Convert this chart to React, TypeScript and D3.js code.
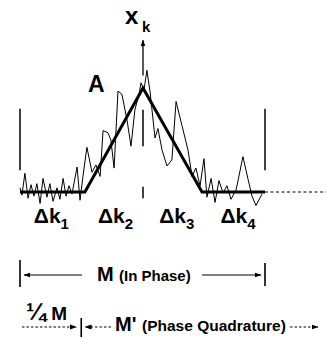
import * as d3 from 'd3';

// position along the record (M = 100) and amplitude (A = 1)
const noiseK = [
  0, 0.8, 2.0, 3.3, 4.5, 5.7, 6.9, 8.2, 9.4, 11.0, 12.2, 13.5, 15.1, 16.3, 17.6, 18.8, 20.0, 21.2, 23.3, 24.5,
  25.7, 27.3, 29.4, 31.0, 32.7, 33.9, 35.9, 37.1, 38.4, 40.0, 41.6, 43.7, 45.3, 46.9, 48.6, 49.4, 50.6, 51.8,
  53.1, 55.1, 56.3, 58.0, 60.0, 62.0, 63.7, 66.1, 68.6, 70.2, 71.8, 73.5, 75.1, 76.3, 78.0, 79.6, 81.2, 82.9,
  84.5, 86.1, 88.2, 91.0, 93.1, 94.7, 96.3, 98.8,
];
const noiseAmp = [
  0.04, -0.03, 0.18, -0.06, 0.07, -0.04, 0.08, -0.11, 0.13, -0.05, 0.08, -0.09, 0.04, -0.07, 0.13, -0.04, 0.06,
  -0.02, 0.24, -0.08, 0.15, 0.43, 0.19, 0.26, 0.15, 0.59, 0.57, 0.5, 0.23, 0.97, 0.94, 0.69, 0.44, 0.79, 0.94,
  1.05, 0.98, 1.17, 0.96, 0.52, 0.61, 0.4, 0.25, 0.31, 0.87, 0.64, 0.4, 0.15, 0.23, 0.06, 0.32, -0.05, 0.13,
  -0.1, 0.11, -0.01, 0.06, -0.07, 0.02, 0.34, 0.12, -0.04, -0.13, -0.02,
];
const trendK = [0, 26.5, 50.2, 74.3, 100];
const trendAmp = [0, 0, 1, 0, 0];
const dkSubs = ['1', '2', '3', '4'];
const dkCenters = [12.8, 39.0, 64.0, 89.0];

const FONT = '"Liberation Sans", Arial, Helvetica, sans-serif';

export default function App() {
  const width = 326;
  const height = 337;
  const x = d3.scaleLinear().domain([0, 100]).range([20, 265]);
  const y = d3.scaleLinear().domain([0, 1]).range([192, 88]);

  const line = d3
    .line<[number, number]>()
    .x((d) => x(d[0]))
    .y((d) => y(d[1]));

  const noise = noiseK.map((k, i) => [k, noiseAmp[i]] as [number, number]);
  const trend = trendK.map((k, i) => [k, trendAmp[i]] as [number, number]);
  const peakK = trendK[2];

  const rowM = 275;
  const rowQ = 327;

  return (
    <svg
      width={width}
      height={height}
      style={{ position: 'absolute', left: 0, top: 0, background: '#fff' }}
      fontFamily={FONT}
      fontWeight="bold"
    >
      <defs>
        <marker id="head" viewBox="0 0 10 10" refX="9" refY="5" markerWidth="7" markerHeight="7" orient="auto-start-reverse" markerUnits="userSpaceOnUse">
          <path d="M0,1.5 L10,5 L0,8.5 Z" fill="#000" />
        </marker>
      </defs>

      {/* x_k axis arrow */}
      <line x1={x(peakK)} x2={x(peakK)} y1={y(1.12)} y2={y(1.46)} stroke="#000" strokeWidth={1.3} markerEnd="url(#head)" />
      <text x={x(peakK) - 18} y={24} fontSize={24}>
        x
      </text>
      <text x={x(peakK) - 1} y={32} fontSize={15}>
        k
      </text>
      <text x={88} y={92} fontSize={23}>
        A
      </text>

      {/* frame bars and centre ticks */}
      {[0, 100].map((k) => (
        <line key={k} x1={x(k)} x2={x(k)} y1={y(0.8)} y2={y(0.21)} stroke="#000" strokeWidth={1.5} />
      ))}
      <line x1={x(peakK)} x2={x(peakK)} y1={y(0.79)} y2={y(0.44)} stroke="#000" strokeWidth={1.5} />
      <line x1={x(peakK)} x2={x(peakK)} y1={y(0.05)} y2={y(-0.06)} stroke="#000" strokeWidth={1.5} />

      {/* noisy record and trend */}
      <path d={line(noise) ?? ''} fill="none" stroke="#000" strokeWidth={1} strokeLinejoin="miter" />
      <path d={line(trend) ?? ''} fill="none" stroke="#000" strokeWidth={3} />
      <line x1={x(100)} x2={width} y1={y(0)} y2={y(0)} stroke="#000" strokeWidth={1} strokeDasharray="3,2.5" />

      {/* delta k labels */}
      {dkSubs.map((s, i) => (
        <text key={s} x={x(dkCenters[i])} y={223} fontSize={21} textAnchor="middle">
          Δk
          <tspan fontSize={15} dy={6}>
            {s}
          </tspan>
        </text>
      ))}

      {/* M (In Phase) */}
      <line x1={x(0)} x2={x(0)} y1={rowM - 15} y2={rowM + 12} stroke="#000" strokeWidth={1.6} />
      <line x1={x(100)} x2={x(100)} y1={rowM - 12} y2={rowM + 11} stroke="#000" strokeWidth={1.6} />
      <line x1={82} x2={x(0) + 4} y1={rowM} y2={rowM} stroke="#000" strokeWidth={1} markerEnd="url(#head)" />
      <line x1={202} x2={x(100) - 4} y1={rowM} y2={rowM} stroke="#000" strokeWidth={1} markerEnd="url(#head)" />
      <text x={97} y={rowM + 6} fontSize={20}>
        M
      </text>
      <text x={119} y={rowM + 6} fontSize={15}>
        (In Phase)
      </text>

      {/* 1/4 M and M' (Phase Quadrature) */}
      <text x={26} y={320} fontSize={19}>
        <tspan fontSize={24}>¼</tspan> M
      </text>
      <line x1={x(0.8)} x2={x(25) - 5} y1={rowQ} y2={rowQ} stroke="#000" strokeWidth={1} strokeDasharray="2.5,2" markerEnd="url(#head)" />
      <line x1={x(25)} x2={x(25)} y1={318} y2={337} stroke="#000" strokeWidth={1.6} />
      <line x1={111} x2={x(25) + 4} y1={rowQ} y2={rowQ} stroke="#000" strokeWidth={1} strokeDasharray="2.5,2" markerEnd="url(#head)" />
      <text x={115} y={331} fontSize={20}>
        M'
      </text>
      <text x={142} y={331} fontSize={15.5}>
        (Phase Quadrature)
      </text>
      <line x1={290} x2={318} y1={rowQ} y2={rowQ} stroke="#000" strokeWidth={1} strokeDasharray="2.5,2" markerEnd="url(#head)" />
    </svg>
  );
}
